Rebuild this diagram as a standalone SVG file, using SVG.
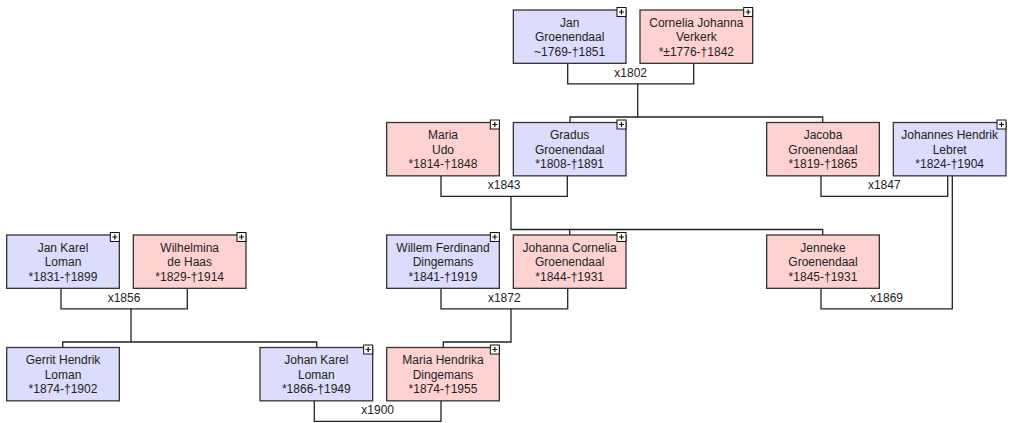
<svg xmlns="http://www.w3.org/2000/svg" width="1013" height="423" viewBox="0 0 1013 423">
<defs>
<style>
.box{stroke:#333;stroke-width:1.3}
.m{fill:#dcdcfc}
.f{fill:#ffd2d2}
.t{font-family:"Liberation Sans",Arial,sans-serif;font-size:12px;fill:#222;text-anchor:middle}
.c{fill:none;stroke:#222;stroke-width:1.3}
.pb{fill:#fff;stroke:#111;stroke-width:1}
.pl{stroke:#111;stroke-width:1.2}
</style>
<g id="plus">
<rect class="pb" x="-9" y="-2.5" width="9" height="9"/>
<path class="pl" d="M-7 2H-2M-4.5 -0.5V4.5"/>
</g>
</defs>
<rect width="1013" height="423" fill="#fff"/>
<g id="connectors">
<path class="c" d="M567.7 63.3V83.8H693.7V63.3"/>
<path class="c" d="M637.7 83.8V117"/>
<path class="c" d="M570 122.5V117H822.7V122.5"/>
<path class="c" d="M441 175.8V196.3H567.3V175.8"/>
<path class="c" d="M511 196.3V229.5H822.7V235"/>
<path class="c" d="M569.7 229.5V235"/>
<path class="c" d="M821 175.8V196.3H947.7V175.8"/>
<path class="c" d="M952.3 175.8V308.8H821V288.3"/>
<path class="c" d="M61 288.3V308.8H187.3V288.3"/>
<path class="c" d="M131 308.8V342"/>
<path class="c" d="M62.7 347.5V342H316.7V347.5"/>
<path class="c" d="M441 288.3V308.8H567.7V288.3"/>
<path class="c" d="M511 308.8V342H443.3V347.5"/>
<path class="c" d="M314.3 400.8V421.3H441V400.8"/>
<text class="t" x="630.7" y="76.5">x1802</text>
<text class="t" x="504.2" y="189">x1843</text>
<text class="t" x="884.3" y="189">x1847</text>
<text class="t" x="886.7" y="301.5">x1869</text>
<text class="t" x="124" y="301.5">x1856</text>
<text class="t" x="504.3" y="301.5">x1872</text>
<text class="t" x="377.7" y="414">x1900</text>
</g>
<g id="jan" transform="translate(513.33,10)">
<rect class="box m" width="112.67" height="53.33"/>
<text class="t" x="56.33" y="16.5">Jan</text><text class="t" x="56.33" y="31">Groenendaal</text><text class="t" x="56.33" y="45.5">~1769-†1851</text>
<use href="#plus" x="112.67"/>
</g>
<g id="cornelia" transform="translate(640,10)">
<rect class="box f" width="112.67" height="53.33"/>
<text class="t" x="56.33" y="16.5">Cornelia Johanna</text><text class="t" x="56.33" y="31">Verkerk</text><text class="t" x="56.33" y="45.5">*±1776-†1842</text>
<use href="#plus" x="112.67"/>
</g>
<g id="maria" transform="translate(386.67,122.5)">
<rect class="box f" width="112.67" height="53.33"/>
<text class="t" x="56.33" y="16.5">Maria</text><text class="t" x="56.33" y="31">Udo</text><text class="t" x="56.33" y="45.5">*1814-†1848</text>
<use href="#plus" x="112.67"/>
</g>
<g id="gradus" transform="translate(513.33,122.5)">
<rect class="box m" width="112.67" height="53.33"/>
<text class="t" x="56.33" y="16.5">Gradus</text><text class="t" x="56.33" y="31">Groenendaal</text><text class="t" x="56.33" y="45.5">*1808-†1891</text>
<use href="#plus" x="112.67"/>
</g>
<g id="jacoba" transform="translate(766.67,122.5)">
<rect class="box f" width="112.67" height="53.33"/>
<text class="t" x="56.33" y="16.5">Jacoba</text><text class="t" x="56.33" y="31">Groenendaal</text><text class="t" x="56.33" y="45.5">*1819-†1865</text>
</g>
<g id="johannes" transform="translate(893.33,122.5)">
<rect class="box m" width="112.67" height="53.33"/>
<text class="t" x="56.33" y="16.5">Johannes Hendrik</text><text class="t" x="56.33" y="31">Lebret</text><text class="t" x="56.33" y="45.5">*1824-†1904</text>
<use href="#plus" x="112.67"/>
</g>
<g id="jankarel" transform="translate(6.67,235)">
<rect class="box m" width="112.67" height="53.33"/>
<text class="t" x="56.33" y="16.5">Jan Karel</text><text class="t" x="56.33" y="31">Loman</text><text class="t" x="56.33" y="45.5">*1831-†1899</text>
<use href="#plus" x="112.67"/>
</g>
<g id="wilhelmina" transform="translate(133.33,235)">
<rect class="box f" width="112.67" height="53.33"/>
<text class="t" x="56.33" y="16.5">Wilhelmina</text><text class="t" x="56.33" y="31">de Haas</text><text class="t" x="56.33" y="45.5">*1829-†1914</text>
<use href="#plus" x="112.67"/>
</g>
<g id="willem" transform="translate(386.67,235)">
<rect class="box m" width="112.67" height="53.33"/>
<text class="t" x="56.33" y="16.5">Willem Ferdinand</text><text class="t" x="56.33" y="31">Dingemans</text><text class="t" x="56.33" y="45.5">*1841-†1919</text>
<use href="#plus" x="112.67"/>
</g>
<g id="johanna" transform="translate(513.33,235)">
<rect class="box f" width="112.67" height="53.33"/>
<text class="t" x="56.33" y="16.5">Johanna Cornelia</text><text class="t" x="56.33" y="31">Groenendaal</text><text class="t" x="56.33" y="45.5">*1844-†1931</text>
<use href="#plus" x="112.67"/>
</g>
<g id="jenneke" transform="translate(766.67,235)">
<rect class="box f" width="112.67" height="53.33"/>
<text class="t" x="56.33" y="16.5">Jenneke</text><text class="t" x="56.33" y="31">Groenendaal</text><text class="t" x="56.33" y="45.5">*1845-†1931</text>
</g>
<g id="gerrit" transform="translate(6.67,347.5)">
<rect class="box m" width="112.67" height="53.33"/>
<text class="t" x="56.33" y="16.5">Gerrit Hendrik</text><text class="t" x="56.33" y="31">Loman</text><text class="t" x="56.33" y="45.5">*1874-†1902</text>
</g>
<g id="johankarel" transform="translate(260,347.5)">
<rect class="box m" width="112.67" height="53.33"/>
<text class="t" x="56.33" y="16.5">Johan Karel</text><text class="t" x="56.33" y="31">Loman</text><text class="t" x="56.33" y="45.5">*1866-†1949</text>
<use href="#plus" x="112.67"/>
</g>
<g id="mariahendrika" transform="translate(386.67,347.5)">
<rect class="box f" width="112.67" height="53.33"/>
<text class="t" x="56.33" y="16.5">Maria Hendrika</text><text class="t" x="56.33" y="31">Dingemans</text><text class="t" x="56.33" y="45.5">*1874-†1955</text>
<use href="#plus" x="112.67"/>
</g>
</svg>
